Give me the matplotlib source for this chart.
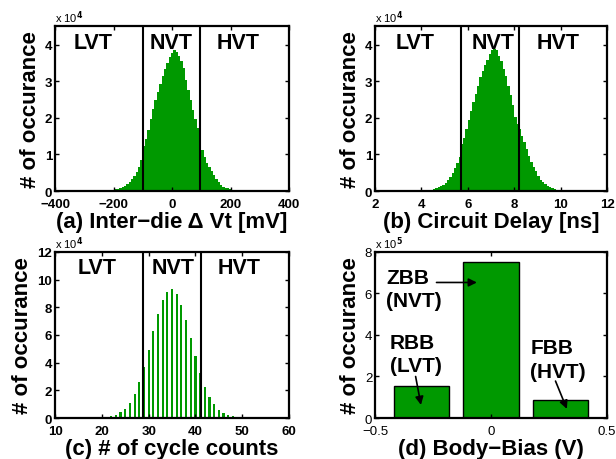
import numpy as np
import matplotlib
matplotlib.use('Agg')
from matplotlib import pyplot as plt

plt.rcParams['font.family'] = ['Liberation Sans', 'DejaVu Sans']
plt.rcParams['font.weight'] = 'bold'
plt.rcParams['axes.linewidth'] = 1.6

GREEN = '#009900'

# ---- (a) inter-die delta Vt histogram (counts in units of 1e4) ----
vt_start, vt_step = -232, 8
vt_counts = [0.01, 0.02, 0.02, 0.03, 0.04, 0.05, 0.06, 0.08, 0.10, 0.14,
             0.18, 0.24, 0.32, 0.40, 0.52, 0.65, 0.85, 1.22, 1.42, 1.66,
             1.98, 2.24, 2.48, 2.72, 2.94, 3.15, 3.35, 3.52, 3.66, 3.78,
             3.86, 3.80, 3.70, 3.55, 3.36, 3.05, 2.78, 2.50, 2.22, 1.98,
             1.72, 1.28, 1.12, 0.92, 0.78, 0.65, 0.54, 0.44, 0.34, 0.25,
             0.17, 0.12, 0.09, 0.07, 0.05, 0.04, 0.03, 0.03, 0.02, 0.02,
             0.02, 0.02, 0.02, 0.01, 0.01, 0.01, 0.01, 0.01, 0.01]
vt_lines = [-100, 94]

# ---- (b) circuit delay histogram (counts in units of 1e4) ----
dl_start, dl_step = 3.95, 0.1
dl_counts = [0.01, 0.01, 0.02, 0.02, 0.03, 0.04, 0.05, 0.07, 0.10, 0.13,
             0.17, 0.22, 0.30, 0.37, 0.48, 0.62, 0.78, 0.94, 1.29, 1.46,
             1.71, 1.94, 2.18, 2.44, 2.66, 2.89, 3.12, 3.28, 3.45, 3.60,
             3.75, 3.85, 3.89, 3.85, 3.71, 3.55, 3.35, 3.15, 2.89, 2.62,
             2.35, 2.03, 1.83, 1.71, 1.51, 1.35, 1.16, 0.96, 0.80, 0.65,
             0.54, 0.42, 0.31, 0.24, 0.18, 0.14, 0.10, 0.07, 0.05, 0.03,
             0.03, 0.02, 0.01]
dl_lines = [5.7, 8.2]

# ---- (c) cycle count histogram (counts in units of 1e4) ----
cycles = list(range(18, 52))
cyc_counts = [0.01, 0.03, 0.07, 0.10, 0.16, 0.24, 0.42, 0.65, 1.09, 1.74,
              2.60, 3.67, 4.93, 6.28, 7.54, 8.55, 9.10, 9.35, 8.99, 8.19,
              7.10, 5.75, 4.50, 3.26, 2.25, 1.53, 0.98, 0.58, 0.35, 0.21,
              0.13, 0.08, 0.05, 0.03]
cyc_lines = [28.8, 41.1]

# ---- (d) body-bias counts (units of 1e5) ----
bias = [-0.3, 0.0, 0.3]
bias_counts = [1.53, 7.54, 0.89]

regions = ['LVT', 'NVT', 'HVT']

fig = plt.figure(figsize=(6.16, 4.6), dpi=100)


def style_axes(ax, bold=True):
    ax.tick_params(direction='in', top=True, right=True, length=3,
                   width=1.0, labelsize=9.5)
    ax.tick_params(axis='x', pad=5)
    ax.tick_params(axis='y', pad=2)
    for lab in ax.get_xticklabels() + ax.get_yticklabels():
        lab.set_fontweight('bold' if bold else 'normal')


def add_labels(ax, exp, xlabel):
    ax.set_ylabel('# of occurance', fontsize=16, fontweight='bold', labelpad=3)
    ax.set_xlabel(xlabel, fontsize=16, fontweight='bold', labelpad=1)
    ax.text(0.0, 1.005, 'x 10$^{%d}$' % exp, transform=ax.transAxes,
            fontsize=8, fontweight='normal', ha='left', va='bottom')


def region_hist(ax, centers, counts, width, lines, xlim, ylim, yticks,
                xticks, label_x, label_y, exp, xlabel):
    ax.bar(centers, counts, width=width, color=GREEN, linewidth=0)
    for x in lines:
        ax.axvline(x, color='black', linewidth=1.5)
    for name, lx in zip(regions, label_x):
        ax.text(lx, label_y, name, ha='center', va='center', fontsize=15.5,
                fontweight='bold')
    ax.set_xlim(*xlim)
    ax.set_ylim(*ylim)
    ax.set_xticks(xticks)
    ax.set_yticks(yticks)
    add_labels(ax, exp, xlabel)
    style_axes(ax)


ax_a = fig.add_axes([0.0893, 0.5826, 0.380, 0.3587])
vt_x = [vt_start + i * vt_step for i in range(len(vt_counts))]
region_hist(ax_a, vt_x, vt_counts, vt_step, vt_lines, (-400, 400), (0, 4.52),
            [0, 1, 2, 3, 4], [-400, -200, 0, 200, 400], [-270, -2, 225], 4.06,
            4, '(a) Inter\u2212die \u0394 Vt [mV]')

ax_b = fig.add_axes([0.6088, 0.5826, 0.3766, 0.3587])
dl_x = [dl_start + i * dl_step for i in range(len(dl_counts))]
region_hist(ax_b, dl_x, dl_counts, dl_step, dl_lines, (2, 12), (0, 4.52),
            [0, 1, 2, 3, 4], [2, 4, 6, 8, 10, 12], [3.72, 7.09, 9.89], 4.06,
            4, '(b) Circuit Delay [ns]')

ax_c = fig.add_axes([0.0893, 0.0891, 0.380, 0.361])
region_hist(ax_c, cycles, cyc_counts, 0.45, cyc_lines, (10, 60), (0, 12),
            [0, 2, 4, 6, 8, 10, 12], [10, 20, 30, 40, 50, 60], [19, 35.3, 49.3],
            10.9, 4, '(c) # of cycle counts')

ax_d = fig.add_axes([0.6088, 0.0891, 0.3766, 0.361])
ax_d.bar(bias, bias_counts, width=0.24, color=GREEN, edgecolor='black',
         linewidth=1.0)
ax_d.set_xlim(-0.5, 0.5)
ax_d.set_ylim(0, 8)
ax_d.set_xticks([-0.5, 0, 0.5])
ax_d.set_xticklabels(['\u22120.5', '0', '0.5'])
ax_d.set_yticks([0, 2, 4, 6, 8])
add_labels(ax_d, 5, '(d) Body\u2212Bias (V)')
style_axes(ax_d, bold=False)

# bias-type labels, left aligned, with arrows pointing at the bars
txt = dict(fontsize=15, fontweight='bold', ha='left', va='top',
           linespacing=1.3)
ax_d.text(-0.453, 7.25, 'ZBB\n(NVT)', **txt)
ax_d.text(-0.435, 4.1, 'RBB\n(LVT)', **txt)
ax_d.text(0.169, 3.85, 'FBB\n(HVT)', **txt)

arrow = dict(arrowstyle='-|>', color='black', lw=1.2, mutation_scale=12,
             shrinkA=0, shrinkB=0)
ax_d.annotate('', xy=(-0.061, 6.53), xytext=(-0.235, 6.53), arrowprops=arrow)
ax_d.annotate('', xy=(-0.302, 0.63), xytext=(-0.325, 2.0), arrowprops=arrow)
ax_d.annotate('', xy=(0.327, 0.44), xytext=(0.278, 1.78), arrowprops=arrow)

fig.savefig('out.png', dpi=100)
